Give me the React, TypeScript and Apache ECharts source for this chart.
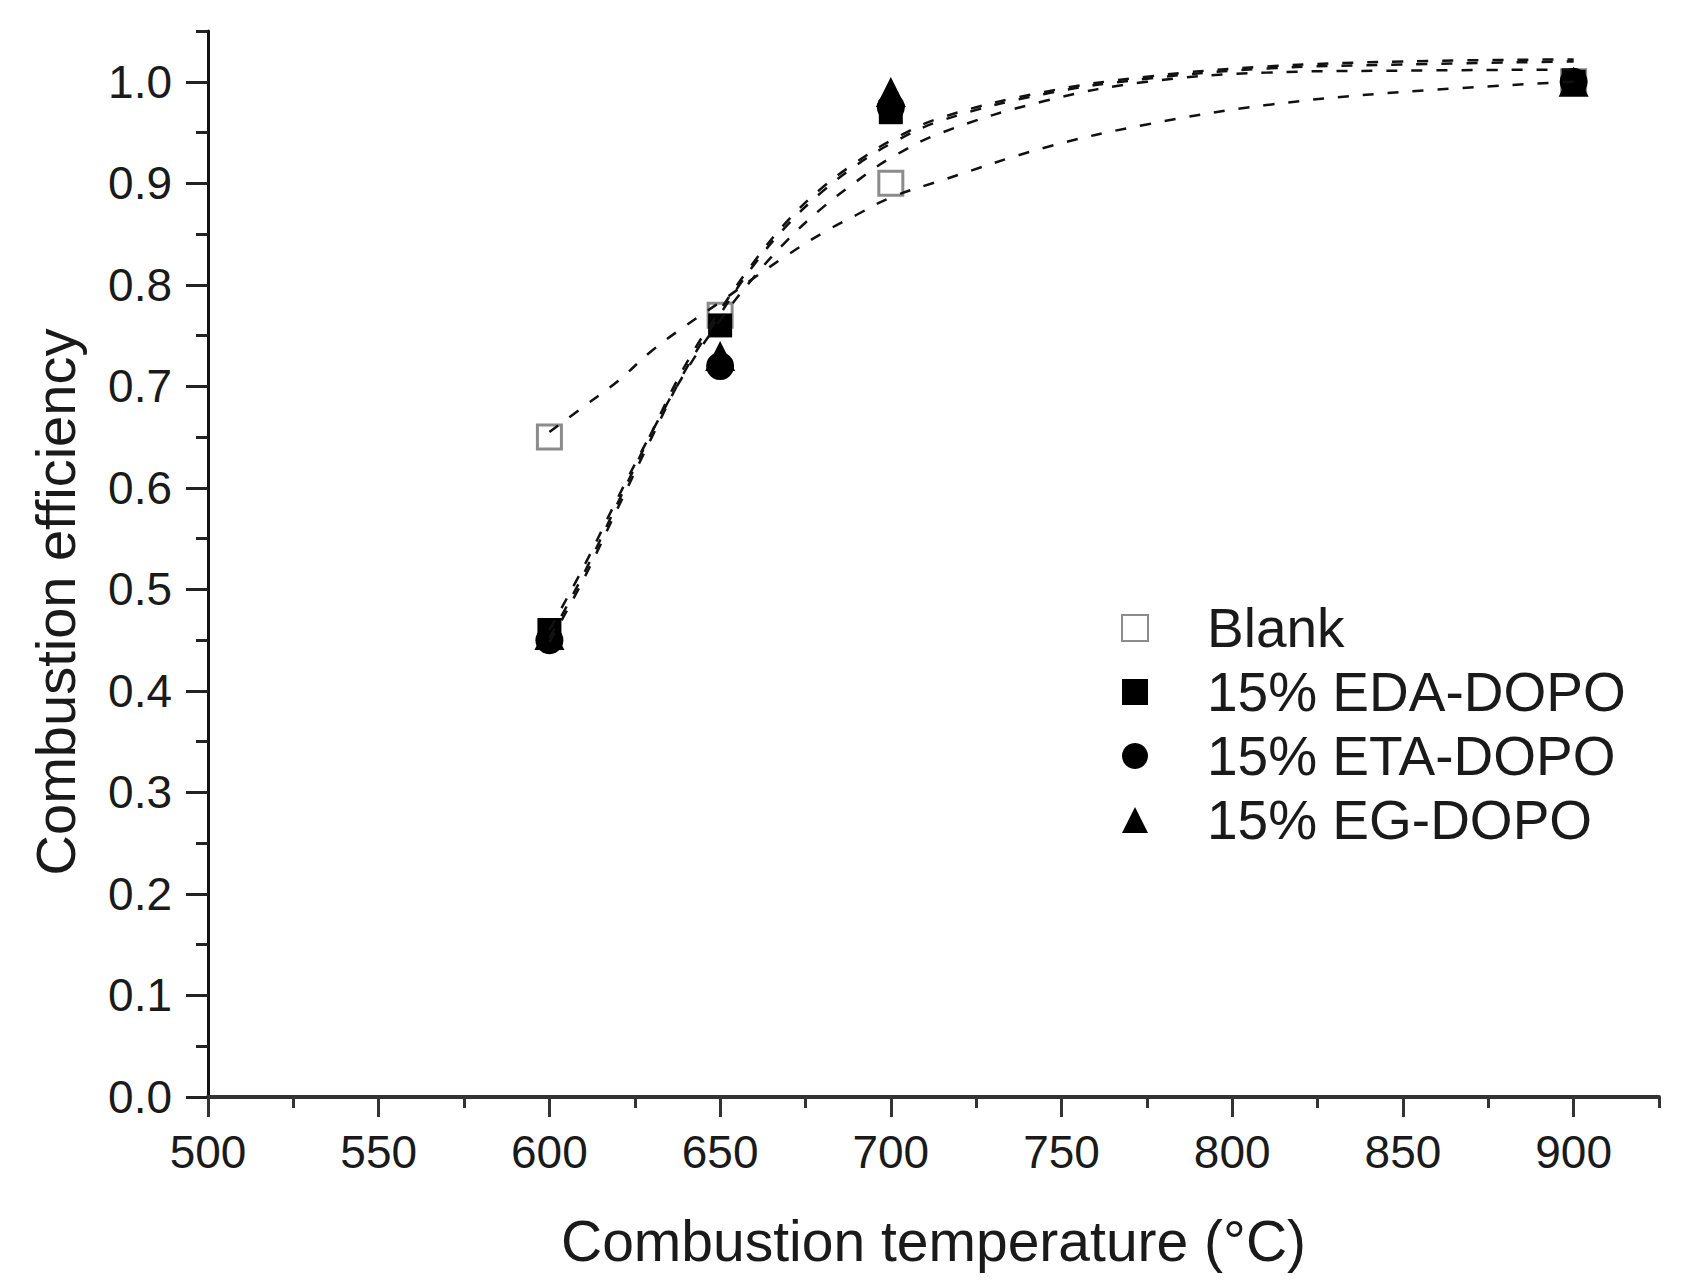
import React, { useEffect, useRef } from "react";
import * as echarts from "echarts";

// Measured points
const temps = [600, 650, 700, 900];
const blank = [0.65, 0.77, 0.9, 1.0];
const eda = [0.46, 0.76, 0.97, 1.0];
const eta = [0.45, 0.72, 0.975, 1.0];
const eg = [0.455, 0.73, 0.99, 1.0];

// Fitted curves (dashed)
const fitX = [600, 610, 620, 630, 640, 650, 660, 670, 680, 690, 700, 715, 745, 775, 810, 850, 900];
const blankFit = [0.655, 0.68, 0.705, 0.735, 0.76, 0.783, 0.807, 0.83, 0.851, 0.869, 0.886, 0.903, 0.935, 0.958, 0.977, 0.99, 1.0];
const edaFit = [0.46, 0.522, 0.59, 0.655, 0.715, 0.765, 0.808, 0.845, 0.876, 0.902, 0.925, 0.95, 0.981, 1.0, 1.009, 1.011, 1.012];
const etaFit = [0.448, 0.51, 0.58, 0.65, 0.717, 0.771, 0.82, 0.86, 0.892, 0.918, 0.939, 0.962, 0.988, 1.003, 1.013, 1.017, 1.02];
const egFit = [0.452, 0.515, 0.585, 0.655, 0.722, 0.775, 0.823, 0.864, 0.896, 0.921, 0.942, 0.965, 0.99, 1.005, 1.015, 1.02, 1.022];

// Tick labels
const xTicks = [500, 550, 600, 650, 700, 750, 800, 850, 900];
const yTicks = [0, 0.1, 0.2, 0.3, 0.4, 0.5, 0.6, 0.7, 0.8, 0.9, 1.0];

const seriesNames = ["Blank", "15% EDA-DOPO", "15% ETA-DOPO", "15% EG-DOPO"];

const FONT = "'Liberation Sans', Arial, sans-serif";
const TXT = "#1a1a1a";

function pts(xs: number[], ys: number[]) {
  return xs.map((x, i) => [x, ys[i]]);
}

export default function App() {
  const ref = useRef<HTMLDivElement>(null);
  useEffect(() => {
    if (!ref.current) return;
    const chart = echarts.init(ref.current, undefined, { renderer: "svg" });
    const dashLine = (name: string, ys: number[]) => ({
      name,
      type: "line",
      data: pts(fitX, ys),
      smooth: 0.4,
      showSymbol: false,
      symbol: "none",
      z: 5,
      silent: true,
      lineStyle: { color: "#111", width: 2.5, type: [11, 14] },
    });
    const markStyle = { color: "#000", opacity: 1 };
    chart.setOption({
      animation: false,
      backgroundColor: "#fff",
      grid: { left: 208, right: 25, top: 31, bottom: 191, containLabel: false },
      legend: {
        orient: "vertical",
        left: 1121,
        top: 596,
        padding: 0,
        itemGap: 0,
        itemWidth: 26,
        itemHeight: 26,
        symbolKeepAspect: true,
        data: seriesNames,
        textStyle: { fontFamily: FONT, fontSize: 55, color: TXT, lineHeight: 64, padding: [0, 0, 0, 54] },
      },
      xAxis: [
        {
          type: "value",
          min: 500,
          max: 925,
          interval: 50,
          name: "Combustion temperature (°C)",
          nameLocation: "middle",
          nameGap: 115,
          nameTextStyle: { fontFamily: FONT, fontSize: 57, color: TXT },
          axisLine: { show: true, onZero: false, lineStyle: { color: "#333", width: 4 } },
          axisTick: { show: true, inside: false, length: 20, customValues: xTicks, lineStyle: { color: "#333", width: 3 } },
          axisLabel: { customValues: xTicks, fontFamily: FONT, fontSize: 46, color: TXT, margin: 32 },
          splitLine: { show: false },
        },
        {
          type: "value",
          min: 500,
          max: 925,
          interval: 25,
          position: "bottom",
          axisLine: { show: false },
          axisTick: { show: true, inside: false, length: 11, lineStyle: { color: "#333", width: 3 } },
          axisLabel: { show: false },
          splitLine: { show: false },
        },
      ],
      yAxis: [
        {
          type: "value",
          min: 0,
          max: 1.05,
          interval: 0.1,
          name: "Combustion efficiency",
          nameLocation: "middle",
          nameGap: 125,
          nameTextStyle: { fontFamily: FONT, fontSize: 56, color: TXT, padding: [0, 76, 0, 0] },
          axisLine: { show: true, onZero: false, lineStyle: { color: "#111", width: 3 } },
          axisTick: { show: true, inside: false, length: 22, customValues: yTicks, lineStyle: { color: "#222", width: 3 } },
          axisLabel: {
            customValues: yTicks,
            fontFamily: FONT,
            fontSize: 46,
            color: TXT,
            margin: 36,
            formatter: (v: number) => v.toFixed(1),
          },
          splitLine: { show: false },
        },
        {
          type: "value",
          min: 0,
          max: 1.05,
          interval: 0.05,
          position: "left",
          axisLine: { show: false },
          axisTick: { show: true, inside: false, length: 12, lineStyle: { color: "#222", width: 3 } },
          axisLabel: { show: false },
          splitLine: { show: false },
        },
      ],
      series: [
        {
          name: seriesNames[0],
          type: "scatter",
          data: pts(temps, blank),
          symbol: "rect",
          symbolSize: 24,
          z: 2,
          itemStyle: { color: "#fff", borderColor: "#8c8c8c", borderWidth: 3, opacity: 1 },
        },
        { name: seriesNames[1], type: "scatter", data: pts(temps, eda), symbol: "rect", symbolSize: 24, z: 3, itemStyle: markStyle },
        { name: seriesNames[2], type: "scatter", data: pts(temps, eta), symbol: "circle", symbolSize: 28, z: 3, itemStyle: markStyle },
        { name: seriesNames[3], type: "scatter", data: pts(temps, eg), symbol: "triangle", symbolSize: 30, z: 3, itemStyle: markStyle },
        dashLine("Blank fit", blankFit),
        dashLine("EDA fit", edaFit),
        dashLine("ETA fit", etaFit),
        dashLine("EG fit", egFit),
      ],
    });
    return () => chart.dispose();
  }, []);
  return (
    <div
      ref={ref}
      style={{ position: "fixed", left: 0, top: 0, width: 1684, height: 1288, background: "#fff" }}
    />
  );
}
